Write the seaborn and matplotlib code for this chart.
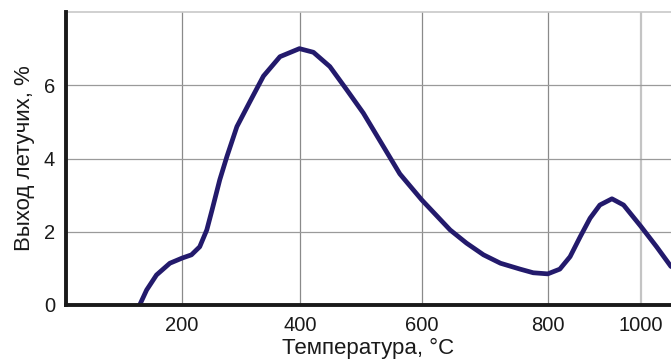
import numpy as np
import pandas as pd
import matplotlib
matplotlib.use("Agg")
import matplotlib.pyplot as plt
import seaborn as sns

# ---- data ----
temperature = [127, 139, 156, 179, 200, 216, 230, 242, 251, 264, 276, 293, 315,
               338, 366, 399, 422, 449, 477, 504, 564, 600, 645, 671, 698, 725,
               756, 777, 800, 826, 848, 870, 891, 912, 938, 963, 1000, 1034, 1065]
volatiles = [0.0, 0.41, 0.82, 1.14, 1.28, 1.37, 1.59, 2.05, 2.6, 3.42, 4.05,
             4.87, 5.55, 6.25, 6.78, 7.0, 6.9, 6.51, 5.87, 5.24, 3.58, 2.87,
             2.05, 1.69, 1.37, 1.14, 0.98, 0.88, 0.85, 0.98, 1.32, 1.87, 2.37,
             2.73, 2.9, 2.73, 2.15, 1.59, 1.05]
x_ticks = [200, 400, 600, 800, 1000]
y_ticks = [0, 2, 4, 6]
x_label = "Температура, °C"
y_label = "Выход летучих, %"

df = pd.DataFrame({"T": temperature, "V": volatiles})

sns.set_style("white")
plt.rcParams["font.family"] = ["Liberation Sans", "DejaVu Sans"]

fig = plt.figure(figsize=(6.71, 3.60), dpi=100)
ax = fig.add_axes([66 / 671, 55 / 360, 1 - 66 / 671, (305 - 12) / 360])

# non-uniform axis of the original drawing (piecewise linear scale)
knots_t = np.array([-200, 0, 200, 400, 600, 800, 1000, 1200])
knots_p = np.array([-50, 66, 182, 300, 421.7, 547.7, 640.7, 733.7])

def fwd(x):
    return np.interp(x, knots_t, knots_p)

def inv(p):
    return np.interp(p, knots_p, knots_t)

ax.set_xscale("function", functions=(fwd, inv))

sns.lineplot(data=df, x="T", y="V", ax=ax, color="#231a6c", linewidth=3.4,
             sort=False, zorder=3)
for l in ax.lines:
    l.set_solid_capstyle("round")
    l.set_solid_joinstyle("round")

ax.set_xlim(0, 1065)
ax.set_ylim(0, 8)
ax.set_xticks(x_ticks)
ax.set_yticks(y_ticks)

# grid
for t in x_ticks:
    if t == 1000:
        ax.axvline(t, color="#c4c4c4", linewidth=1.6, zorder=1)
    else:
        ax.axvline(t, color="#8a8a8a", linewidth=0.9, zorder=1)
for v in [2, 4, 6]:
    ax.axhline(v, color="#9a9a9a", linewidth=0.9, zorder=1)
ax.axhline(8, color="#c8c8c8", linewidth=1.2, zorder=1, clip_on=False)

for s in ["top", "right"]:
    ax.spines[s].set_visible(False)
for s in ["left", "bottom"]:
    ax.spines[s].set_color("#1a1a1a")
    ax.spines[s].set_linewidth(2.8)
    ax.spines[s].set_zorder(4)

ax.tick_params(axis="x", length=0, pad=8, labelsize=14.5, colors="#1a1a1a")
ax.tick_params(axis="y", length=0, pad=8, labelsize=14.5, colors="#1a1a1a")
ax.set_xlabel(x_label, fontsize=16, color="#1a1a1a", labelpad=2)
ax.set_ylabel(y_label, fontsize=16, color="#1a1a1a", labelpad=6)

fig.savefig("out.png", dpi=100)
